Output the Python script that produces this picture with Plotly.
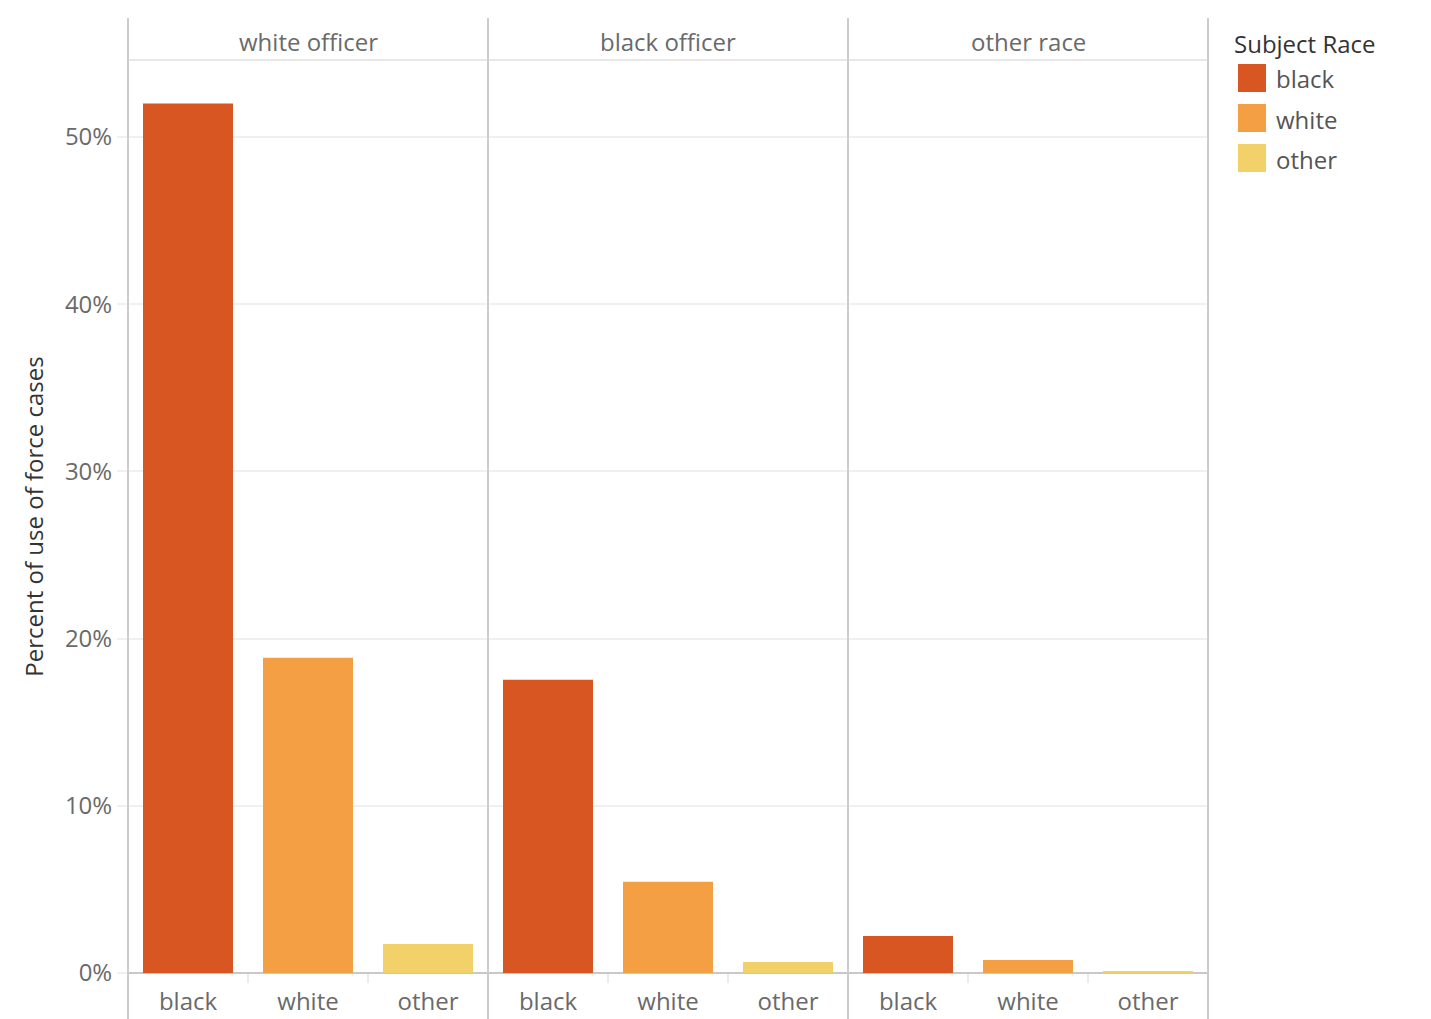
import plotly.graph_objects as go

# officer race panels and subject race bars
officer_groups = ["white officer", "black officer", "other race"]
subject_races = ["black", "white", "other"]
race_colors = ["#d85622", "#f59f44", "#f2d06a"]

# percent of use of force cases, one list per officer panel
white_officer_pct = [52.0, 18.85, 1.74]
black_officer_pct = [17.53, 5.45, 0.66]
other_officer_pct = [2.21, 0.78, 0.12]
panel_values = [white_officer_pct, black_officer_pct, other_officer_pct]

y_ticks = [0, 10, 20, 30, 40, 50]
y_tick_labels = ["0%", "10%", "20%", "30%", "40%", "50%"]

# the page puts the figure 8px in from the corner
OFF = 8
W, H = 1431 - OFF, 1019 - OFF
L, T = 128 - OFF, 60 - OFF
R = W - (1208 - OFF)
B = H - (973 - OFF)
plot_w = W - L - R
plot_h = H - T - B


def px_x(x):
    return (x - OFF - L) / plot_w


def px_y(y):
    return (H - B - (y - OFF)) / plot_h


font = "Open Sans"
fig = go.Figure()

n = len(officer_groups)
for i, (grp, vals) in enumerate(zip(officer_groups, panel_values)):
    ax = "" if i == 0 else str(i + 1)
    fig.add_trace(go.Bar(
        x=subject_races, y=vals, width=0.75,
        marker=dict(color=race_colors, line_width=0),
        xaxis="x" + ax, yaxis="y", showlegend=False,
        hovertemplate="%{x}: %{y:.1f}%<extra>" + grp + "</extra>",
    ))
    fig.layout["xaxis" + ax] = dict(
        domain=[i / n, (i + 1) / n], range=[-0.5, 2.5],
        type="category", anchor="y", automargin=False,
        ticks="outside", tickson="boundaries", ticklen=9,
        tickcolor="#ececec", tickwidth=2, ticklabelstandoff=12,
        showgrid=False, showline=False, zeroline=False,
        tickfont=dict(family=font, size=24, color="#6a6a6a"),
    )
    fig.add_annotation(
        text=grp, x=(i + 0.5) / n, y=px_y(41), xref="paper", yref="paper",
        showarrow=False, xanchor="center", yanchor="middle",
        font=dict(family=font, size=24, color="#6a6a6a"),
    )

fig.update_layout(
    width=W, height=H,
    margin=dict(l=L, r=R, t=T, b=B),
    paper_bgcolor="white", plot_bgcolor="white",
    bargap=0.25,
    yaxis=dict(
        range=[0, 54.6], tickmode="array", tickvals=y_ticks, ticktext=y_tick_labels,
        automargin=False,
        showgrid=True, gridcolor="#f0f0f0", gridwidth=2,
        zeroline=True, zerolinecolor="#c8c8c8", zerolinewidth=2,
        ticks="outside", ticklen=10, tickcolor="#f0f0f0", tickwidth=2,
        tickfont=dict(family=font, size=24, color="#6a6a6a"),
        title=dict(text="Percent of use of force cases", standoff=14,
                   font=dict(family=font, size=24, color="#333333")),
    ),
    showlegend=False,
)

# panel frames: vertical separators and header rule
for k in range(n + 1):
    fig.add_shape(type="line", xref="paper", yref="paper",
                  x0=k / n, x1=k / n, y0=px_y(1019), y1=px_y(18),
                  line=dict(color="#cccccc", width=2))
fig.add_shape(type="line", xref="paper", yref="paper",
              x0=0, x1=1, y0=1, y1=1, line=dict(color="#d0d0d0", width=1))

# legend drawn by hand for the large swatches
fig.add_annotation(text="Subject Race", x=px_x(1232), y=px_y(44),
                   xref="paper", yref="paper", showarrow=False,
                   xanchor="left", yanchor="middle",
                   font=dict(family=font, size=24, color="#333333"))
for k, (race, col) in enumerate(zip(subject_races, race_colors)):
    top = 64 + 40 * k
    fig.add_shape(type="rect", xref="paper", yref="paper",
                  x0=px_x(1238), x1=px_x(1266), y0=px_y(top + 28), y1=px_y(top),
                  fillcolor=col, line_width=0)
    fig.add_annotation(text=race, x=px_x(1274), y=px_y(top + 15),
                       xref="paper", yref="paper", showarrow=False,
                       xanchor="left", yanchor="middle",
                       font=dict(family=font, size=24, color="#555555"))

fig.write_html("out.html")
